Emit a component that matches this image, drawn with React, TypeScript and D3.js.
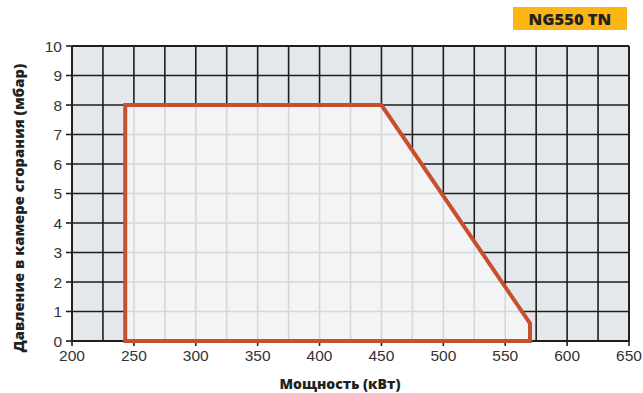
import React from "react";
import * as d3 from "d3";

const xTicks = [200, 250, 300, 350, 400, 450, 500, 550, 600, 650];
const yTicks = [0, 1, 2, 3, 4, 5, 6, 7, 8, 9, 10];
const xGrid = d3.range(200, 651, 25);
const envelopeX = [243, 243, 450, 570, 570];
const envelopeY = [0, 8, 8, 0.6, 0];
const title = "NG550 TN";
const xTitle = "Мощность (кВт)";
const yTitle = "Давление в камере сгорания (мбар)";

const W = 643, H = 393;
const L = 72, R = 629, T = 46, B = 341;

export default function App() {
  const x = d3.scaleLinear().domain([200, 650]).range([L, R]);
  const y = d3.scaleLinear().domain([0, 10]).range([B, T]);
  const pts: [number, number][] = envelopeX.map((v, i) => [x(v), y(envelopeY[i])]);
  const line = d3.line().curve(d3.curveLinearClosed);
  const path = line(pts) || "";
  const font = "'Liberation Sans', Arial, sans-serif";
  const heavy = "'Open Sans', sans-serif";
  return (
    <svg width={W} height={H} style={{ position: "absolute", left: 0, top: 0, background: "#fff" }}>
      <defs>
        <clipPath id="env"><path d={path} /></clipPath>
      </defs>
      <rect x={L} y={T} width={R - L} height={B - T} fill="#e5e8eb" />
      {xGrid.map(v => (
        <line key={"gx" + v} x1={x(v)} x2={x(v)} y1={T} y2={B} stroke="#1e1e1e" strokeWidth={1.6} />
      ))}
      {yTicks.map(v => (
        <line key={"gy" + v} x1={L} x2={R} y1={y(v)} y2={y(v)} stroke="#1e1e1e" strokeWidth={1.6} />
      ))}
      <path d={path} fill="#f3f4f6" />
      <g clipPath="url(#env)">
        {xGrid.map(v => (
          <line key={"lx" + v} x1={x(v)} x2={x(v)} y1={T} y2={B} stroke="#d6d7d9" strokeWidth={1.6} />
        ))}
        {yTicks.map(v => (
          <line key={"ly" + v} x1={L} x2={R} y1={y(v)} y2={y(v)} stroke="#d6d7d9" strokeWidth={1.6} />
        ))}
      </g>
      <line x1={L} x2={R} y1={B} y2={B} stroke="#1e1e1e" strokeWidth={1.8} />
      <line x1={L} x2={R} y1={T} y2={T} stroke="#1e1e1e" strokeWidth={1.8} />
      <line x1={L} x2={L} y1={T} y2={B} stroke="#1e1e1e" strokeWidth={1.8} />
      <line x1={R} x2={R} y1={T} y2={B} stroke="#1e1e1e" strokeWidth={1.8} />
      {xTicks.map(v => (
        <g key={"xt" + v}>
          <line x1={x(v)} x2={x(v)} y1={B} y2={B + 5} stroke="#1e1e1e" strokeWidth={1.6} />
          <text x={x(v)} y={B + 20} textAnchor="middle" fontFamily={font} fontSize={15.5} fill="#333">{v}</text>
        </g>
      ))}
      {yTicks.map(v => (
        <g key={"yt" + v}>
          <line x1={L - 6} x2={L} y1={y(v)} y2={y(v)} stroke="#1e1e1e" strokeWidth={1.6} />
          <text x={L - 10} y={y(v) + 5.5} textAnchor="end" fontFamily={font} fontSize={15.5} fill="#333">{v}</text>
        </g>
      ))}
      <path d={path} fill="none" stroke="#c84f2e" strokeWidth={4} strokeLinejoin="miter" />
      <text x={340} y={389} textAnchor="middle" fontFamily={heavy} fontWeight={800} fontSize={14} fill="#222">{xTitle}</text>
      <text transform={`translate(24, 208) rotate(-90)`} textAnchor="middle" fontFamily={heavy} fontWeight={800} fontSize={14.8} fill="#222">{yTitle}</text>
      <rect x={513} y={7} width={114} height={23} fill="#fbb514" />
      <text x={570} y={24.5} textAnchor="middle" fontFamily={heavy} fontWeight={800} fontSize={16.5} fill="#222">{title}</text>
    </svg>
  );
}
